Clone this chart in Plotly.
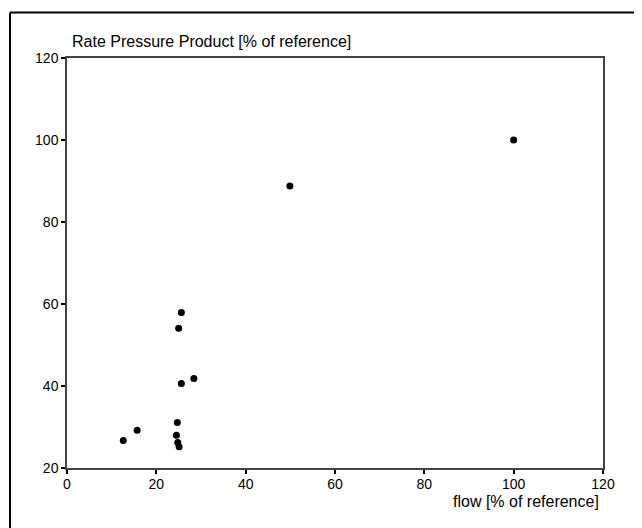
import plotly.graph_objects as go

flow = [12.6, 15.7, 24.5, 24.7, 24.8, 25.1, 25.6, 28.4, 25.0, 25.6, 49.9, 100.0]
rpp = [26.7, 29.2, 28.0, 31.1, 26.2, 25.2, 40.6, 41.8, 54.1, 57.9, 88.8, 100.0]

x_ticks = [0, 20, 40, 60, 80, 100, 120]
y_ticks = [20, 40, 60, 80, 100, 120]

# page has an 8px body margin; figure is drawn at (8, 8)
OFF = 8
W, H = 642 - OFF, 528 - OFF
L, R, T, B = 67 - OFF, 39, 58 - OFF, 60
pw, ph = W - L - R, H - T - B

def px(x):
    return (x - OFF - L) / pw

def py(y):
    return (H - B - (y - OFF)) / ph

fig = go.Figure()
fig.add_trace(go.Scatter(
    x=flow, y=rpp, mode="markers",
    marker=dict(color="black", size=7),
    hoverinfo="x+y", showlegend=False,
))

axis_common = dict(
    showgrid=False, zeroline=False, showline=True, linecolor="#444",
    linewidth=1.5, mirror=True, ticks="outside", ticklen=4, tickwidth=2,
    tickcolor="black", tickfont=dict(family="Liberation Sans, Arial", size=14, color="black"),
)
fig.update_xaxes(range=[0, 120], tickvals=x_ticks, ticklabelstandoff=-2, **axis_common)
fig.update_yaxes(range=[20, 120], tickvals=y_ticks, **axis_common)

fig.update_layout(
    width=W, height=H,
    margin=dict(l=L, r=R, t=T, b=B),
    paper_bgcolor="white", plot_bgcolor="white",
    font=dict(family="Liberation Sans, Arial", size=14, color="black"),
    annotations=[
        dict(text="Rate Pressure Product [% of reference]", xref="paper", yref="paper",
             x=px(70), y=py(42), xanchor="left", yanchor="middle", showarrow=False,
             font=dict(size=16)),
        dict(text="flow [% of reference]", xref="paper", yref="paper",
             x=px(601), y=py(501), xanchor="right", yanchor="middle", showarrow=False,
             font=dict(size=16)),
    ],
    shapes=[
        dict(type="line", xref="paper", yref="paper", x0=px(10), x1=px(660), y0=py(12.5), y1=py(12.5),
             line=dict(color="black", width=2)),
        dict(type="line", xref="paper", yref="paper", x0=px(10), x1=px(10), y0=py(12.5), y1=py(540),
             line=dict(color="black", width=2)),
    ],
)

fig.write_html("out.html")
